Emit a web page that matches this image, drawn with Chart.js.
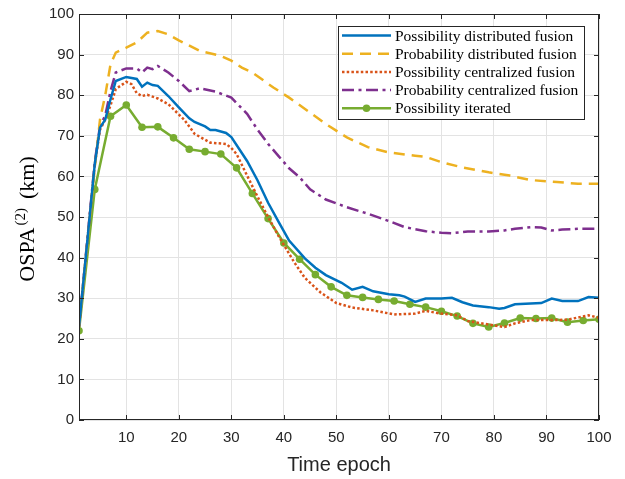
<!DOCTYPE html>
<html>
<head>
<meta charset="utf-8">
<script src="https://cdn.jsdelivr.net/npm/chart.js@4.4.1/dist/chart.umd.min.js"></script>
<style>
  html, body { margin: 0; padding: 0; background: #fff; }
  #ospa-chart { display: block; }
</style>
</head>
<body>
<canvas id="ospa-chart" width="625" height="479"></canvas>
<script>
// OSPA(2) error per time epoch for the five fusion schemes
var seriesLabels = [
  'Possibility distributed fusion',
  'Probability distributed fusion',
  'Possibility centralized fusion',
  'Probability centralized fusion',
  'Possibility iterated'
];

var possDistEpoch = [1,4,5,6,7,8,10,12,13,14,15,16,18,20,22,23,25,26,27,29,30,33,35,37,39,41,44,46,48,51,53,55,57,60,62,63,65,67,70,72,74,76,79,81,82,84,87,89,91,93,96,98,100];
var possDistOspa  = [23,63,72,74,79,83.5,84.5,84,82.1,83.1,82.5,82.3,79.8,77,74.3,73.4,72.3,71.4,71.4,70.7,69.7,63.8,59,53.5,48.8,44.2,39.8,37.5,35.7,33.8,32.1,32.8,31.7,31,30.7,30.4,29.1,29.9,29.9,30.1,29,28.2,27.8,27.4,27.6,28.5,28.7,28.8,29.9,29.3,29.3,30.3,30.1];

var probDistEpoch = [1,4,5,6,7,8,10,12,14,16,18,20,24,28,30,32,34,38,41,45,48,52,56,60,65,67,70,74,79,83,87,92,96,100];
var probDistOspa  = [23,62,74,80,87.6,90.5,91.7,93,95.4,95.8,95,93.5,90.9,89.7,88.5,86.8,85.6,81.9,79.4,75.7,72.9,69.6,67.2,65.9,65.1,64.8,63.5,62.2,61,60.2,59.1,58.6,58.2,58.2];

var possCentEpoch = [1,4,5,6,7,8,10,11,12,13,14,16,18,21,23,26,29,30,31,33,35,37,39,42,44,47,50,53,57,61,65,67,69,70,73,75,79,82,84,87,91,94,98,100];
var possCentOspa  = [23,63,71.5,74,77.5,81.5,83.3,82.7,80.5,79.8,80.1,79.2,77.8,74,70.5,68.3,68,67,65.5,60.2,55,50,45.3,38.8,35,31.4,28.8,27.7,27,26,26.2,26.9,26.4,26.2,25.8,24.4,23.5,22.9,23.8,24.6,24.6,24.7,25.8,25.2];

var probCentEpoch = [1,4,5,6,7,8,10,12,13,14,15,16,18,20,22,24,27,30,33,35,37,39,41,43,45,48,52,56,60,63,67,70,72,75,79,82,84,87,89,91,93,96,100];
var probCentOspa  = [23,63.5,72.5,75,81,85.6,86.6,86.6,85.6,86.8,86.4,87.2,85.6,83.5,81,81.7,80.9,79.4,75.4,71.5,68,65,62,59.8,56.8,54.3,52.4,50.8,49,47.5,46.5,46.1,46,46.4,46.4,46.7,47.1,47.5,47.4,46.7,46.9,47.1,47.1];

var iterEpoch = [1,4,7,10,13,16,19,22,25,28,31,34,37,40,43,46,49,52,55,58,61,64,67,70,73,76,79,82,85,88,91,94,97,100];
var iterOspa  = [22,56.8,74.8,77.6,72.1,72.2,69.5,66.7,66.1,65.5,62.1,55.8,49.6,43.6,39.6,35.8,32.8,30.7,30.2,29.7,29.3,28.5,27.8,26.8,25.6,23.8,22.9,23.9,25.1,25.0,25.1,24.1,24.5,24.8];

var xTicks = [10,20,30,40,50,60,70,80,90,100];
var yTicks = [0,10,20,30,40,50,60,70,80,90,100];

var axisColor = '#262626';
var gridColor = '#e3e3e3';

function toPoints(xs, ys) {
  var pts = [];
  for (var i = 0; i < xs.length; i++) {
    pts.push({x: xs[i], y: ys[i]});
  }
  return pts;
}

function lineSet(label, xs, ys, color, dash, marker) {
  return {
    label: label,
    data: toPoints(xs, ys),
    borderColor: color,
    backgroundColor: color,
    borderWidth: 2.5,
    borderDash: dash,
    borderCapStyle: 'butt',
    tension: 0,
    pointRadius: marker ? 3.8 : 0,
    pointBorderWidth: 0,
    pointHoverRadius: 0,
    pointStyle: 'circle'
  };
}

var datasets = [
  lineSet(seriesLabels[0], possDistEpoch, possDistOspa, '#0072BD', [], false),
  lineSet(seriesLabels[1], probDistEpoch, probDistOspa, '#EDB120', [11, 7], false),
  lineSet(seriesLabels[2], possCentEpoch, possCentOspa, '#D95319', [2.5, 2.2], false),
  lineSet(seriesLabels[3], probCentEpoch, probCentOspa, '#7E2F8E', [12, 4.5, 3, 4.5], false),
  lineSet(seriesLabels[4], iterEpoch, iterOspa, '#77AC30', [], true)
];

// box around the axes with inward tick marks, then the legend on top
var axesBox = {
  id: 'axesBox',
  afterDatasetsDraw: function (chart) {
    var ctx = chart.ctx, a = chart.chartArea;
    var xs = chart.scales.x, ys = chart.scales.y;
    ctx.save();
    ctx.strokeStyle = axisColor;
    ctx.lineWidth = 1;
    ctx.setLineDash([]);
    ctx.beginPath();
    xTicks.forEach(function (v) {
      var px = Math.round(xs.getPixelForValue(v)) + 0.5;
      ctx.moveTo(px, a.bottom); ctx.lineTo(px, a.bottom - 5);
      ctx.moveTo(px, a.top); ctx.lineTo(px, a.top + 5);
    });
    yTicks.forEach(function (v) {
      var py = Math.round(ys.getPixelForValue(v)) + 0.5;
      ctx.moveTo(a.left, py); ctx.lineTo(a.left + 5, py);
      ctx.moveTo(a.right, py); ctx.lineTo(a.right - 5, py);
    });
    ctx.stroke();
    ctx.strokeRect(Math.round(a.left) + 0.5, Math.round(a.top) + 0.5,
                   Math.round(a.width) - 1, Math.round(a.height) - 1);
    ctx.restore();
    drawLegend(chart);
  },
  afterDraw: function (chart) {
    drawYTitle(chart);
  }
};

function drawLegend(chart) {
  var ctx = chart.ctx, a = chart.chartArea;
  var font = '15.5px "Liberation Serif", "DejaVu Serif", serif';
  ctx.save();
  ctx.font = font;
  var textW = 0;
  chart.data.datasets.forEach(function (ds) {
    textW = Math.max(textW, ctx.measureText(ds.label).width);
  });
  var sampleLen = 49, rowH = 18.2;
  var boxW = Math.round(4 + sampleLen + 4 + textW + 6);
  var boxH = Math.round(rowH * chart.data.datasets.length + 2);
  var right = Math.round(a.right) - 15;
  var left = right - boxW;
  var top = Math.round(a.top) + 12;
  ctx.fillStyle = '#fff';
  ctx.fillRect(left, top, boxW, boxH);
  ctx.strokeStyle = axisColor;
  ctx.lineWidth = 1;
  ctx.strokeRect(left + 0.5, top + 0.5, boxW, boxH);
  chart.data.datasets.forEach(function (ds, i) {
    var cy = top + 9.5 + i * rowH;
    var x0 = left + 4;
    ctx.strokeStyle = ds.borderColor;
    ctx.lineWidth = ds.borderWidth;
    ctx.lineCap = 'butt';
    ctx.setLineDash(ds.borderDash);
    ctx.beginPath();
    ctx.moveTo(x0, cy);
    ctx.lineTo(x0 + sampleLen, cy);
    ctx.stroke();
    if (ds.pointRadius > 0) {
      ctx.fillStyle = ds.borderColor;
      ctx.beginPath();
      ctx.arc(x0 + sampleLen / 2, cy, ds.pointRadius, 0, Math.PI * 2);
      ctx.fill();
    }
    ctx.setLineDash([]);
    ctx.fillStyle = '#000';
    ctx.textBaseline = 'middle';
    ctx.textAlign = 'left';
    ctx.fillText(ds.label, x0 + sampleLen + 4, cy + 1);
  });
  ctx.restore();
}

// rotated y title with a raised (2)
function drawYTitle(chart) {
  var ctx = chart.ctx, a = chart.chartArea;
  var mainFont = '22px "Liberation Serif", "DejaVu Serif", serif';
  var supFont = '15px "Liberation Serif", "DejaVu Serif", serif';
  ctx.save();
  ctx.font = mainFont;
  var w1 = ctx.measureText('OSPA').width;
  var w3 = ctx.measureText('(km)').width;
  ctx.font = supFont;
  var w2 = ctx.measureText('(2)').width;
  var gap1 = 2, gap2 = 9;
  var total = w1 + gap1 + w2 + gap2 + w3;
  ctx.translate(34, (a.top + a.bottom) / 2 + 2);
  ctx.rotate(-Math.PI / 2);
  ctx.fillStyle = '#000';
  ctx.textBaseline = 'alphabetic';
  ctx.textAlign = 'left';
  var x = -total / 2;
  ctx.font = mainFont;
  ctx.fillText('OSPA', x, 0);
  x += w1 + gap1;
  ctx.font = supFont;
  ctx.fillText('(2)', x, -9);
  x += w2 + gap2;
  ctx.font = mainFont;
  ctx.fillText('(km)', x, 0);
  ctx.restore();
}

var config = {
  type: 'line',
  data: { datasets: datasets },
  options: {
    responsive: false,
    animation: false,
    devicePixelRatio: 1,
    layout: { padding: { top: 13, right: 26, bottom: 0, left: 0 } },
    plugins: {
      legend: { display: false },
      tooltip: { enabled: false }
    },
    scales: {
      x: {
        type: 'linear',
        min: 1,
        max: 100,
        afterBuildTicks: function (scale) {
          scale.ticks = xTicks.map(function (v) { return {value: v}; });
        },
        afterFit: function (scale) { scale.height = 59; },
        grid: { color: gridColor, drawTicks: false },
        border: { display: false },
        ticks: {
          autoSkip: false,
          maxRotation: 0,
          padding: 9,
          color: axisColor,
          font: { family: '"Liberation Sans", Arial, sans-serif', size: 15 }
        },
        title: {
          display: true,
          text: 'Time epoch',
          color: axisColor,
          padding: { top: 0, bottom: 2 },
          font: { family: '"Liberation Sans", Arial, sans-serif', size: 20 }
        }
      },
      y: {
        min: 0,
        max: 100,
        afterBuildTicks: function (scale) {
          scale.ticks = yTicks.map(function (v) { return {value: v}; });
        },
        afterFit: function (scale) { scale.width = 79; },
        grid: { color: gridColor, drawTicks: false },
        border: { display: false },
        ticks: {
          padding: 5,
          color: axisColor,
          font: { family: '"Liberation Sans", Arial, sans-serif', size: 15 }
        }
      }
    }
  },
  plugins: [axesBox]
};

var ospaChart = new Chart(document.getElementById('ospa-chart'), config);
</script>
</body>
</html>
